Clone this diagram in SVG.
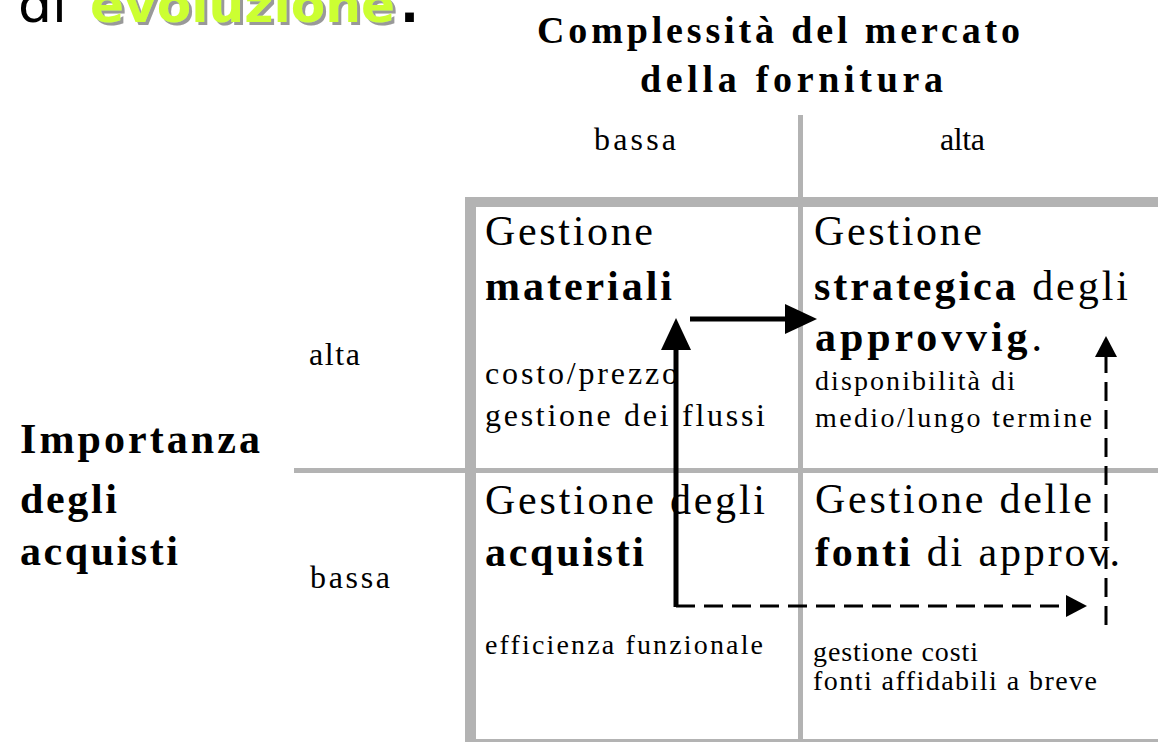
<svg xmlns="http://www.w3.org/2000/svg" width="1158" height="742" viewBox="0 0 1158 742">
<style>
.serif{font-family:"Liberation Serif","Times New Roman",serif;fill:#000}
.b{font-weight:bold}
.grid{fill:#b3b3b3}
.solid{stroke:#000;stroke-width:5;fill:none}
.dash{stroke:#000;stroke-width:3;fill:none;stroke-dasharray:19 9}
.hdr{font-family:"Comic Sans MS","DejaVu Sans",sans-serif}
</style>
<defs>
<marker id="ahS" markerUnits="userSpaceOnUse" markerWidth="32" markerHeight="30" refX="0" refY="15" orient="auto"><path d="M0,0 L32,15 L0,30 z" fill="#000"/></marker>
<marker id="ahD" markerUnits="userSpaceOnUse" markerWidth="21" markerHeight="22" refX="0" refY="11" orient="auto"><path d="M0,0 L21,11 L0,22 z" fill="#000"/></marker>
<filter id="shadow" x="-5%" y="-20%" width="110%" height="140%"><feDropShadow dx="3" dy="3" stdDeviation="0.6" flood-color="#999999" flood-opacity="1"/></filter>
</defs>
<rect width="1158" height="742" fill="#fff"/>

<g id="header">
<text class="hdr" x="18" y="22" font-size="50" textLength="49" lengthAdjust="spacingAndGlyphs">di</text>
<text class="hdr" x="90" y="22" font-size="50" font-weight="bold" fill="#ccff33" filter="url(#shadow)" textLength="305" lengthAdjust="spacingAndGlyphs">evoluzione</text>
<text class="hdr" x="400" y="22" font-size="50" font-weight="bold">.</text>
</g>

<g id="grid">
<rect class="grid" x="465" y="197" width="693" height="10"/>
<rect class="grid" x="465" y="197" width="11" height="545"/>
<rect class="grid" x="465" y="739" width="693" height="3"/>
<rect class="grid" x="798" y="115" width="5" height="627"/>
<rect class="grid" x="294" y="468" width="864" height="5"/>
</g>

<g id="axis-x">
<text class="serif b" x="537" y="43" font-size="38" textLength="483" lengthAdjust="spacing">Complessità del mercato</text>
<text class="serif b" x="640" y="92" font-size="38" textLength="303" lengthAdjust="spacing">della fornitura</text>
<text class="serif" x="594" y="150" font-size="32" textLength="82" lengthAdjust="spacing">bassa</text>
<text class="serif" x="940" y="150" font-size="32" textLength="45" lengthAdjust="spacing">alta</text>
</g>

<g id="axis-y">
<text class="serif b" x="20" y="453" font-size="42" textLength="240" lengthAdjust="spacing">Importanza</text>
<text class="serif b" x="20" y="513" font-size="42" textLength="97" lengthAdjust="spacing">degli</text>
<text class="serif b" x="20" y="565" font-size="42" textLength="158" lengthAdjust="spacing">acquisti</text>
<text class="serif" x="309" y="365" font-size="32" textLength="51" lengthAdjust="spacing">alta</text>
<text class="serif" x="310" y="588" font-size="32" textLength="80" lengthAdjust="spacing">bassa</text>
</g>

<g id="cell-materiali">
<text class="serif" x="485" y="245" font-size="42" textLength="168" lengthAdjust="spacing">Gestione</text>
<text class="serif b" x="485" y="300" font-size="42" textLength="187" lengthAdjust="spacing">materiali</text>
<text class="serif" x="485" y="384" font-size="32" textLength="193" lengthAdjust="spacing">costo/prezzo</text>
<text class="serif" x="485" y="426" font-size="32" textLength="280" lengthAdjust="spacing">gestione dei flussi</text>
</g>

<g id="cell-strategica">
<text class="serif" x="814" y="245" font-size="42" textLength="168" lengthAdjust="spacing">Gestione</text>
<text class="serif" x="814" y="300" font-size="42" textLength="314" lengthAdjust="spacing"><tspan class="b">strategica</tspan> degli</text>
<text class="serif" x="815" y="351" font-size="42" textLength="227" lengthAdjust="spacing"><tspan class="b">approvvig</tspan>.</text>
<text class="serif" x="815" y="390" font-size="28" textLength="200" lengthAdjust="spacing">disponibilità di</text>
<text class="serif" x="815" y="427" font-size="28" textLength="277" lengthAdjust="spacing">medio/lungo termine</text>
</g>

<g id="cell-acquisti">
<text class="serif" x="485" y="514" font-size="42" textLength="280" lengthAdjust="spacing">Gestione degli</text>
<text class="serif b" x="485" y="566" font-size="42" textLength="159" lengthAdjust="spacing">acquisti</text>
<text class="serif" x="485" y="654" font-size="28" textLength="278" lengthAdjust="spacing">efficienza funzionale</text>
</g>

<g id="cell-fonti">
<text class="serif" x="815" y="513" font-size="42" textLength="277" lengthAdjust="spacing">Gestione delle</text>
<text class="serif" x="815" y="566" font-size="42" textLength="305" lengthAdjust="spacing"><tspan class="b">fonti</tspan> di approv.</text>
<text class="serif" x="813" y="661" font-size="28" textLength="165" lengthAdjust="spacing">gestione costi</text>
<text class="serif" x="813" y="690" font-size="28" textLength="284" lengthAdjust="spacing">fonti affidabili a breve</text>
</g>

<g id="connectors">
<polyline class="solid" points="676,607 676,350" marker-end="url(#ahS)"/>
<polyline class="solid" points="690,319 785,319" marker-end="url(#ahS)"/>
<polyline class="dash" points="676,606 1066,606" marker-end="url(#ahD)"/>
<polyline class="dash" points="1106,625 1106,357" marker-end="url(#ahD)"/>
</g>
</svg>
